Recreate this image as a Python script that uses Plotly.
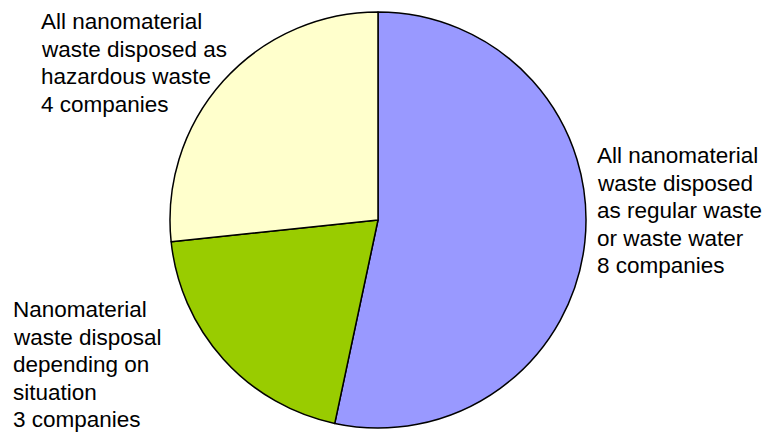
import plotly.graph_objects as go

# Disposal practice categories (wrapped lines) and number of companies in each
category_lines = [
    ["All nanomaterial", "waste disposed", "as regular waste", "or waste water"],
    ["Nanomaterial", "waste disposal", "depending on", "situation"],
    ["All nanomaterial", "waste disposed as", "hazardous waste"],
]
companies = [8, 3, 4]
colors = ["#9999FF", "#99CC00", "#FFFFCC"]

W, H = 766, 434
cx, cy, r = 378, 220, 208

fig = go.Figure(go.Pie(
    labels=[" ".join(l) for l in category_lines],
    values=companies,
    sort=False,
    direction="clockwise",
    rotation=0,
    textinfo="none",
    hoverinfo="label+value",
    marker=dict(colors=colors, line=dict(color="black", width=1.5)),
    domain=dict(x=[(cx - r) / W, (cx + r) / W], y=[1 - (cy + r) / H, 1 - (cy - r) / H]),
    showlegend=False,
))

# Outside labels: left x px and first-line baseline y px for each category
label_pos = [(596, 163), (12, 317), (40, 29)]
pitch = 27.5
size = 22.5
for lines, n, (lx, base) in zip(category_lines, companies, label_pos):
    for i, line in enumerate(lines + [f"{n} companies"]):
        y_mid = base + i * pitch - 0.33 * size
        fig.add_annotation(
            x=lx / W, y=1 - y_mid / H, xref="paper", yref="paper",
            xanchor="left", yanchor="middle", align="left",
            text=line, showarrow=False, borderpad=0,
            font=dict(family="Liberation Sans, Arial", size=size, color="black"),
        )

fig.update_layout(
    width=W, height=H,
    margin=dict(l=0, r=0, t=0, b=0),
    paper_bgcolor="white", plot_bgcolor="white",
)

fig.write_html("out.html")
